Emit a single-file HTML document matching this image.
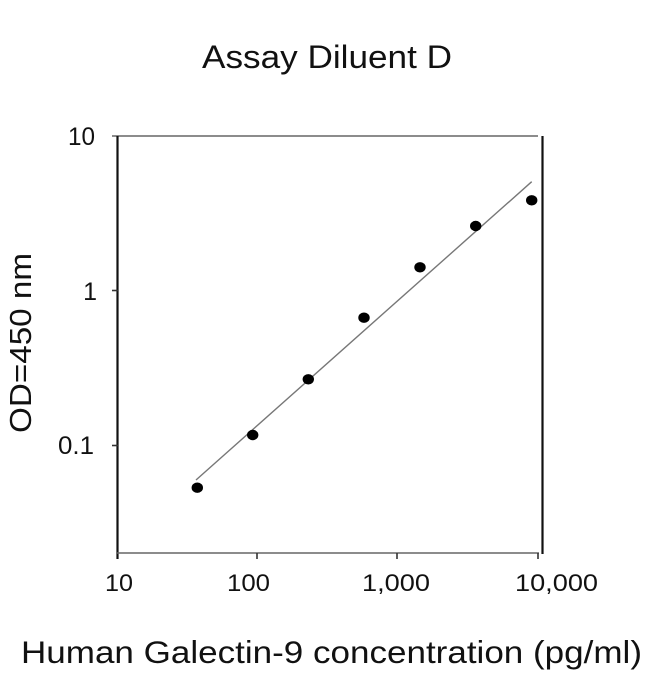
<!DOCTYPE html>
<html>
<head>
<meta charset="utf-8">
<style>
html,body{margin:0;padding:0;background:#fff;}
svg{display:block;}
text{font-family:"Liberation Sans",Arial,sans-serif;fill:#111;}
</style>
</head>
<body>
<svg width="650" height="674" viewBox="0 0 650 674" xmlns="http://www.w3.org/2000/svg">
<rect width="650" height="674" fill="#fff"/>
<!-- title -->
<text x="202" y="68" font-size="32" textLength="250" lengthAdjust="spacingAndGlyphs">Assay Diluent D</text>
<!-- y label -->
<text transform="translate(31,343) rotate(-90)" text-anchor="middle" font-size="31" textLength="180" lengthAdjust="spacingAndGlyphs">OD=450 nm</text>
<!-- x label -->
<text x="21" y="663" font-size="31.5" textLength="621" lengthAdjust="spacingAndGlyphs">Human Galectin-9 concentration (pg/ml)</text>

<!-- frame -->
<line x1="112" y1="136" x2="538" y2="136" stroke="#666" stroke-width="1.6"/>
<line x1="117.5" y1="136" x2="117.5" y2="559" stroke="#111" stroke-width="2.2"/>
<line x1="542.5" y1="136" x2="542.5" y2="554" stroke="#111" stroke-width="2.2"/>
<line x1="117" y1="553" x2="539" y2="553" stroke="#666" stroke-width="1.6"/>
<!-- y ticks -->
<line x1="112" y1="290.5" x2="118" y2="290.5" stroke="#333" stroke-width="1.6"/>
<line x1="112" y1="445.5" x2="118" y2="445.5" stroke="#333" stroke-width="1.6"/>
<!-- x ticks -->
<line x1="257" y1="553" x2="257" y2="559" stroke="#333" stroke-width="1.6"/>
<line x1="397" y1="553" x2="397" y2="559" stroke="#333" stroke-width="1.6"/>
<line x1="538" y1="553" x2="538" y2="559" stroke="#333" stroke-width="1.6"/>

<!-- y tick labels -->
<text x="68" y="145" font-size="25" textLength="27" lengthAdjust="spacingAndGlyphs">10</text>
<text x="97" y="300" font-size="25" text-anchor="end">1</text>
<text x="58" y="454" font-size="25" textLength="36" lengthAdjust="spacingAndGlyphs">0.1</text>
<!-- x tick labels -->
<text x="105" y="591" font-size="24" textLength="28" lengthAdjust="spacingAndGlyphs">10</text>
<text x="227" y="591" font-size="24" textLength="43" lengthAdjust="spacingAndGlyphs">100</text>
<text x="362" y="591" font-size="24" textLength="68" lengthAdjust="spacingAndGlyphs">1,000</text>
<text x="515" y="591" font-size="24" textLength="83" lengthAdjust="spacingAndGlyphs">10,000</text>

<!-- regression line -->
<line x1="196" y1="480" x2="531.7" y2="181.7" stroke="#777" stroke-width="1.4"/>

<!-- points -->
<g fill="#000">
<ellipse cx="197.3" cy="487.7" rx="5.7" ry="5.2"/>
<ellipse cx="252.7" cy="435" rx="5.7" ry="5.2"/>
<ellipse cx="308.3" cy="379.3" rx="5.7" ry="5.2"/>
<ellipse cx="364" cy="317.7" rx="5.7" ry="5.2"/>
<ellipse cx="420" cy="267.3" rx="5.7" ry="5.2"/>
<ellipse cx="475.7" cy="226" rx="5.7" ry="5.2"/>
<ellipse cx="531.7" cy="200.3" rx="5.7" ry="5.2"/>
</g>
</svg>
</body>
</html>
